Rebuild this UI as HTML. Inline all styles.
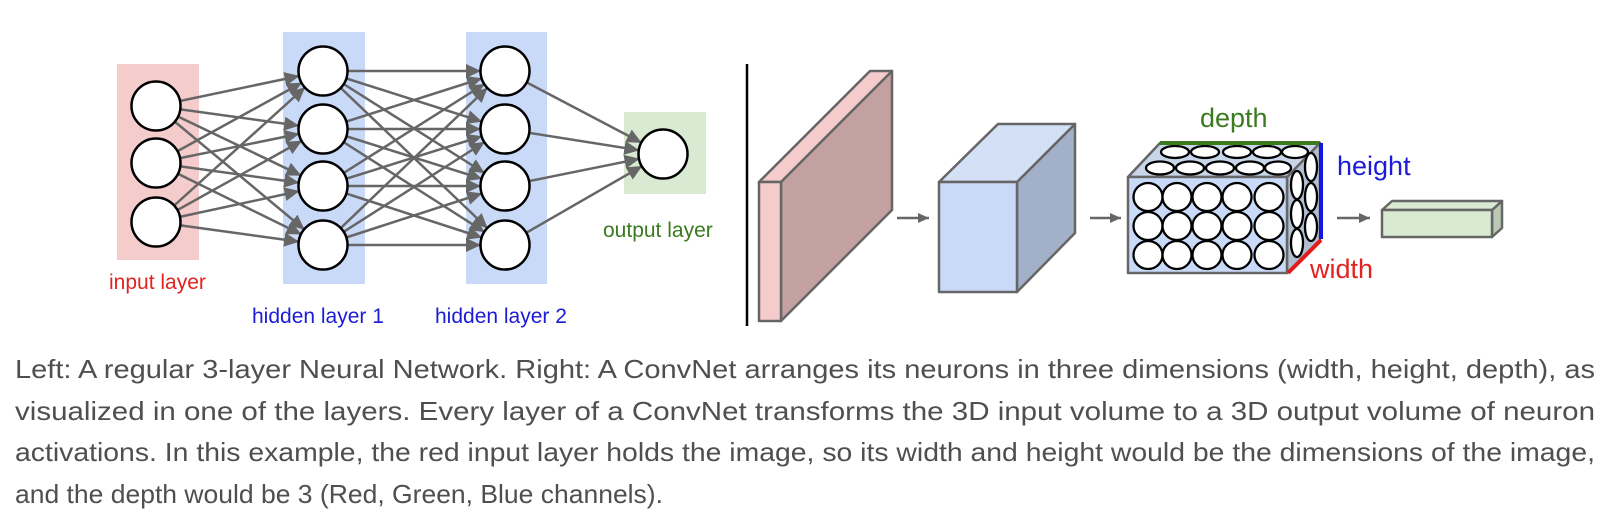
<!DOCTYPE html>
<html><head><meta charset="utf-8"><style>
html,body{margin:0;padding:0;background:#fff;}
svg{display:block;}
</style></head><body>
<svg width="1612" height="516" viewBox="0 0 1612 516" xmlns="http://www.w3.org/2000/svg" font-family="Liberation Sans, Arial, sans-serif">
<defs>
<marker id="a" markerUnits="userSpaceOnUse" viewBox="0 -8 40 16" markerWidth="40" markerHeight="16" refX="39" refY="0" orient="auto">
<path d="M0,-7 L15,0 L0,7 z" fill="#666"/>
</marker>
<marker id="s" markerUnits="userSpaceOnUse" viewBox="0 -6 12 12" markerWidth="12" markerHeight="12" refX="11" refY="0" orient="auto">
<path d="M0,-5 L11,0 L0,5 z" fill="#666"/>
</marker>
</defs>
<rect x="117" y="64" width="82" height="196" fill="#f4cccc"/>
<rect x="283" y="32" width="82" height="252" fill="#c9daf8"/>
<rect x="466" y="32" width="81" height="252" fill="#c9daf8"/>
<rect x="624" y="112" width="82" height="82" fill="#d9ead3"/>
<g stroke="#666" stroke-width="2.5" marker-end="url(#a)">
<line x1="156" y1="106" x2="323" y2="71"/><line x1="156" y1="106" x2="323" y2="129"/><line x1="156" y1="106" x2="323" y2="186"/><line x1="156" y1="106" x2="323" y2="245"/>
<line x1="156" y1="163" x2="323" y2="71"/><line x1="156" y1="163" x2="323" y2="129"/><line x1="156" y1="163" x2="323" y2="186"/><line x1="156" y1="163" x2="323" y2="245"/>
<line x1="156" y1="222" x2="323" y2="71"/><line x1="156" y1="222" x2="323" y2="129"/><line x1="156" y1="222" x2="323" y2="186"/><line x1="156" y1="222" x2="323" y2="245"/>
<line x1="323" y1="71" x2="505" y2="71"/><line x1="323" y1="71" x2="505" y2="129"/><line x1="323" y1="71" x2="505" y2="186"/><line x1="323" y1="71" x2="505" y2="245"/>
<line x1="323" y1="129" x2="505" y2="71"/><line x1="323" y1="129" x2="505" y2="129"/><line x1="323" y1="129" x2="505" y2="186"/><line x1="323" y1="129" x2="505" y2="245"/>
<line x1="323" y1="186" x2="505" y2="71"/><line x1="323" y1="186" x2="505" y2="129"/><line x1="323" y1="186" x2="505" y2="186"/><line x1="323" y1="186" x2="505" y2="245"/>
<line x1="323" y1="245" x2="505" y2="71"/><line x1="323" y1="245" x2="505" y2="129"/><line x1="323" y1="245" x2="505" y2="186"/><line x1="323" y1="245" x2="505" y2="245"/>
<line x1="505" y1="71" x2="663" y2="154"/><line x1="505" y1="129" x2="663" y2="154"/><line x1="505" y1="186" x2="663" y2="154"/><line x1="505" y1="245" x2="663" y2="154"/>
</g>
<g fill="#fff" stroke="#000" stroke-width="2.5">
<ellipse cx="156" cy="106" rx="24.5" ry="24.5"/><ellipse cx="156" cy="163" rx="24.5" ry="24.5"/><ellipse cx="156" cy="222" rx="24.5" ry="24.5"/>
<ellipse cx="323" cy="71" rx="24.5" ry="24.5"/><ellipse cx="323" cy="129" rx="24.5" ry="24.5"/><ellipse cx="323" cy="186" rx="24.5" ry="24.5"/><ellipse cx="323" cy="245" rx="24.5" ry="24.5"/>
<ellipse cx="505" cy="71" rx="24.5" ry="24.5"/><ellipse cx="505" cy="129" rx="24.5" ry="24.5"/><ellipse cx="505" cy="186" rx="24.5" ry="24.5"/><ellipse cx="505" cy="245" rx="24.5" ry="24.5"/>
<ellipse cx="663" cy="154" rx="24.5" ry="24.5"/>
</g>
<g font-size="21">
<text x="109" y="289" fill="#e3231f">input layer</text>
<text x="252" y="323" fill="#1c1cd6">hidden layer 1</text>
<text x="435" y="323" fill="#1c1cd6">hidden layer 2</text>
<text x="603" y="237" fill="#3b7a1f">output layer</text>
</g>
<line x1="747" y1="64" x2="747" y2="326" stroke="#000" stroke-width="2.5"/>
<g stroke="#666" stroke-width="2.5" stroke-linejoin="round">
<polygon points="781,182 892,71 892,210 781,321" fill="#c4a1a1"/>
<polygon points="759,182 870,71 892,71 781,182" fill="#f4cccc"/>
<rect x="759" y="182" width="22" height="139" fill="#f4cccc"/>
<polygon points="1017,182 1075,124 1075,233 1017,292" fill="#a2b1c9"/>
<polygon points="939,182 998,124 1075,124 1017,182" fill="#d3e0f6"/>
<rect x="939" y="182" width="78" height="110" fill="#c9daf8"/>
<polygon points="1287,177 1320,143 1320,240 1287,273" fill="#b2bfd3"/>
<polygon points="1128,177 1160,143 1320,143 1287,177" fill="#c9d6ea"/>
<rect x="1128" y="177" width="159" height="96" fill="#c9daf8"/>
<polygon points="1492,210 1502,201 1502,228 1492,237" fill="#b9c9b3"/>
<polygon points="1382,210 1392,201 1502,201 1492,210" fill="#d9ead3"/>
<rect x="1382" y="210" width="110" height="27" fill="#d9ead3"/>
</g>
<g fill="#fff" stroke="#000" stroke-width="2.3">
<ellipse cx="1148" cy="197" rx="14.5" ry="14"/><ellipse cx="1177" cy="197" rx="14.5" ry="14"/><ellipse cx="1207" cy="197" rx="14.5" ry="14"/><ellipse cx="1237" cy="197" rx="14.5" ry="14"/><ellipse cx="1269" cy="197" rx="14.5" ry="14"/>
<ellipse cx="1148" cy="226" rx="14.5" ry="14"/><ellipse cx="1177" cy="226" rx="14.5" ry="14"/><ellipse cx="1207" cy="226" rx="14.5" ry="14"/><ellipse cx="1237" cy="226" rx="14.5" ry="14"/><ellipse cx="1269" cy="226" rx="14.5" ry="14"/>
<ellipse cx="1148" cy="255" rx="14.5" ry="14"/><ellipse cx="1177" cy="255" rx="14.5" ry="14"/><ellipse cx="1207" cy="255" rx="14.5" ry="14"/><ellipse cx="1237" cy="255" rx="14.5" ry="14"/><ellipse cx="1269" cy="255" rx="14.5" ry="14"/>
<ellipse cx="1175" cy="152" rx="14" ry="6"/><ellipse cx="1205" cy="152" rx="14" ry="6"/><ellipse cx="1237" cy="152" rx="14" ry="6"/><ellipse cx="1267" cy="152" rx="14" ry="6"/><ellipse cx="1295" cy="152" rx="13" ry="6"/>
<ellipse cx="1160" cy="168" rx="14" ry="6.5"/><ellipse cx="1190" cy="168" rx="14" ry="6.5"/><ellipse cx="1220" cy="168" rx="14" ry="6.5"/><ellipse cx="1250" cy="168" rx="14" ry="6.5"/><ellipse cx="1278" cy="168" rx="13" ry="6.5"/>
<ellipse cx="1311" cy="167" rx="6" ry="14"/><ellipse cx="1311" cy="197" rx="6" ry="14"/><ellipse cx="1311" cy="227" rx="6" ry="14"/>
<ellipse cx="1297" cy="185" rx="6" ry="14"/><ellipse cx="1297" cy="214" rx="6" ry="14"/><ellipse cx="1297" cy="243" rx="6" ry="14"/>
</g>
<line x1="1160" y1="143" x2="1320" y2="143" stroke="#3d7a1d" stroke-width="4"/>
<line x1="1321" y1="143" x2="1321" y2="239" stroke="#1515e0" stroke-width="4"/>
<line x1="1321" y1="240" x2="1288" y2="273" stroke="#e51b1b" stroke-width="4"/>
<g stroke="#666" stroke-width="2.5" marker-end="url(#s)">
<line x1="897" y1="218" x2="929" y2="218"/>
<line x1="1090" y1="218" x2="1121" y2="218"/>
<line x1="1337" y1="218" x2="1370" y2="218"/>
</g>
<g font-size="27">
<text x="1200" y="127" fill="#3b7a1f">depth</text>
<text x="1337" y="175" fill="#1c1cd6">height</text>
<text x="1310" y="278" fill="#e3231f">width</text>
</g>
<g font-size="26" fill="#4f4f4f">
<text x="15" y="378" textLength="1580" lengthAdjust="spacingAndGlyphs">Left: A regular 3-layer Neural Network. Right: A ConvNet arranges its neurons in three dimensions (width, height, depth), as</text>
<text x="15" y="420" textLength="1580" lengthAdjust="spacingAndGlyphs">visualized in one of the layers. Every layer of a ConvNet transforms the 3D input volume to a 3D output volume of neuron</text>
<text x="15" y="461" textLength="1580" lengthAdjust="spacingAndGlyphs">activations. In this example, the red input layer holds the image, so its width and height would be the dimensions of the image,</text>
<text x="15" y="503" textLength="648" lengthAdjust="spacingAndGlyphs">and the depth would be 3 (Red, Green, Blue channels).</text>
</g>
</svg>
</body></html>
